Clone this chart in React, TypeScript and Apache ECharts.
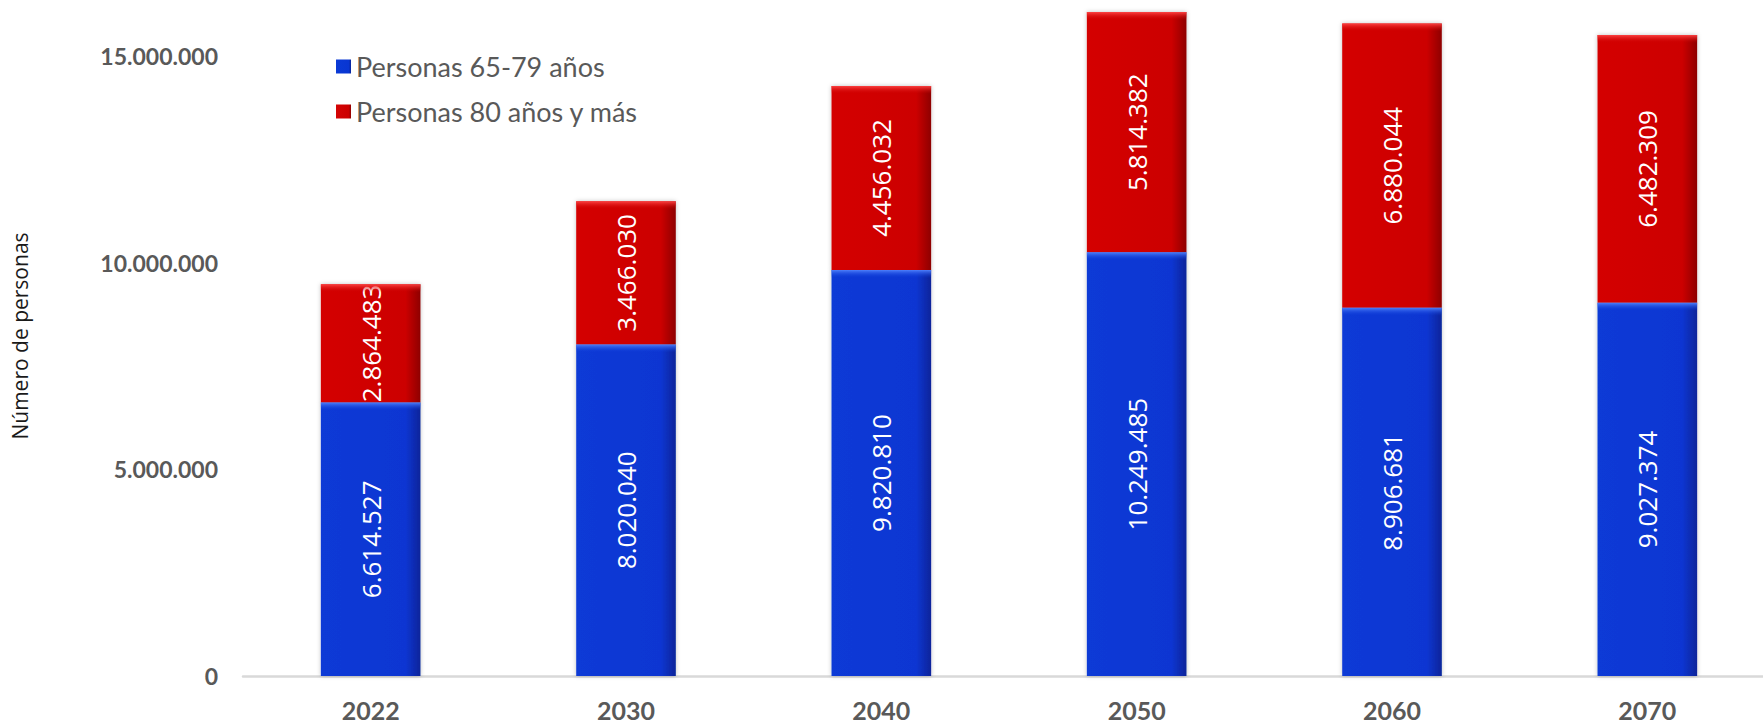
import React, { useEffect, useRef } from "react";
import * as echarts from "echarts";

const categories = ["2022", "2030", "2040", "2050", "2060", "2070"];
const seriesNames = ["Personas 65-79 años", "Personas 80 años y más"];
const persons65to79 = [6614527, 8020040, 9820810, 10249485, 8906681, 9027374];
const persons80plus = [2864483, 3466030, 4456032, 5814382, 6880044, 6482309];
const yTicks = [0, 5000000, 10000000, 15000000];
const yAxisTitle = "Número de personas";

const fmt = (v: number) => String(Math.round(v)).replace(/\B(?=(\d{3})+(?!\d))/g, ".");

export default function App() {
  const ref = useRef<HTMLDivElement>(null);
  useEffect(() => {
    if (!ref.current) return;
    const chart = echarts.init(ref.current, null, { renderer: "svg" });
    const blue = new echarts.graphic.LinearGradient(0, 0, 1, 0, [
      { offset: 0, color: "#0a3ad6" },
      { offset: 0.85, color: "#0936d2" },
      { offset: 1, color: "#07249a" },
    ]);
    const red = new echarts.graphic.LinearGradient(0, 0, 1, 0, [
      { offset: 0, color: "#d40404" },
      { offset: 0.85, color: "#cc0000" },
      { offset: 1, color: "#8e0202" },
    ]);
    const labelCfg = {
      show: true,
      position: "inside",
      rotate: 90,
      color: "#ffffff",
      fontFamily: "Open Sans",
      fontSize: 26,
      formatter: (p: any) => fmt(p.value),
    };
    const highlightData = categories.map((_, i) => [
      i,
      persons65to79[i],
      persons65to79[i] + persons80plus[i],
    ]);
    chart.setOption({
      animation: false,
      backgroundColor: "#ffffff",
      grid: { left: 243, right: -12, top: 0, bottom: 48, containLabel: false, outerBoundsMode: "none" },
      legend: {
        orient: "vertical",
        left: 331,
        top: 48,
        itemWidth: 15,
        itemHeight: 14,
        itemGap: 18,
        icon: "rect",
        textStyle: { color: "#595959", fontSize: 27, fontFamily: "Lato" },
        data: seriesNames,
      },
      graphic: [
        {
          type: "text",
          x: 20,
          y: 336,
          rotation: Math.PI / 2,
          style: {
            text: yAxisTitle,
            fill: "#1a1a1a",
            fontSize: 21,
            fontFamily: "Open Sans",
            align: "center",
            verticalAlign: "middle",
          },
        },
      ],
      xAxis: {
        type: "category",
        data: categories,
        axisLine: { show: true, lineStyle: { color: "#d9d9d9", width: 2.5 } },
        axisTick: { show: false },
        axisLabel: {
          color: "#595959",
          fontWeight: "bold",
          fontSize: 25,
          fontFamily: "Lato",
          margin: 21,
        },
      },
      yAxis: {
        type: "value",
        min: 0,
        max: 16355000,
        interval: 5000000,
        splitLine: { show: false },
        axisLine: { show: false },
        axisTick: { show: false },
        axisLabel: {
          color: "#595959",
          fontWeight: "bold",
          fontSize: 23,
          fontFamily: "Lato",
          margin: 25,
          formatter: (v: number) => (yTicks.includes(v) ? fmt(v) : ""),
        },
      },
      series: [
        {
          name: seriesNames[0],
          type: "bar",
          stack: "total",
          barWidth: "39%",
          data: persons65to79,
          itemStyle: { color: blue, shadowBlur: 4, shadowColor: "rgba(0,0,0,0.25)" },
          label: labelCfg,
        },
        {
          name: seriesNames[1],
          type: "bar",
          stack: "total",
          barWidth: "39%",
          data: persons80plus,
          itemStyle: { color: red, shadowBlur: 4, shadowColor: "rgba(0,0,0,0.25)" },
          label: labelCfg,
        },
        {
          type: "custom",
          silent: true,
          z: 3,
          data: highlightData,
          encode: { x: 0, y: [1, 2] },
          renderItem: (params: any, api: any) => {
            const i = api.value(0);
            const pBlue = api.coord([i, api.value(1)]);
            const pRed = api.coord([i, api.value(2)]);
            const bw = api.size([1, 0])[0] * 0.39;
            const x = pBlue[0] - bw / 2;
            const h = 8;
            return {
              type: "group",
              children: [
                {
                  type: "rect",
                  shape: { x: x, y: pBlue[1], width: bw, height: h },
                  style: {
                    fill: new echarts.graphic.LinearGradient(0, 0, 0, 1, [
                      { offset: 0, color: "rgba(80,130,255,0.95)" },
                      { offset: 1, color: "rgba(10,58,214,0)" },
                    ]),
                  },
                },
                {
                  type: "rect",
                  shape: { x: x, y: pRed[1], width: bw, height: h },
                  style: {
                    fill: new echarts.graphic.LinearGradient(0, 0, 0, 1, [
                      { offset: 0, color: "rgba(255,70,70,0.95)" },
                      { offset: 1, color: "rgba(204,0,0,0)" },
                    ]),
                  },
                },
              ],
            };
          },
        },
      ],
    });
    return () => chart.dispose();
  }, []);
  return (
    <div
      ref={ref}
      style={{ position: "absolute", left: 0, top: 0, width: 1763, height: 724 }}
    />
  );
}
